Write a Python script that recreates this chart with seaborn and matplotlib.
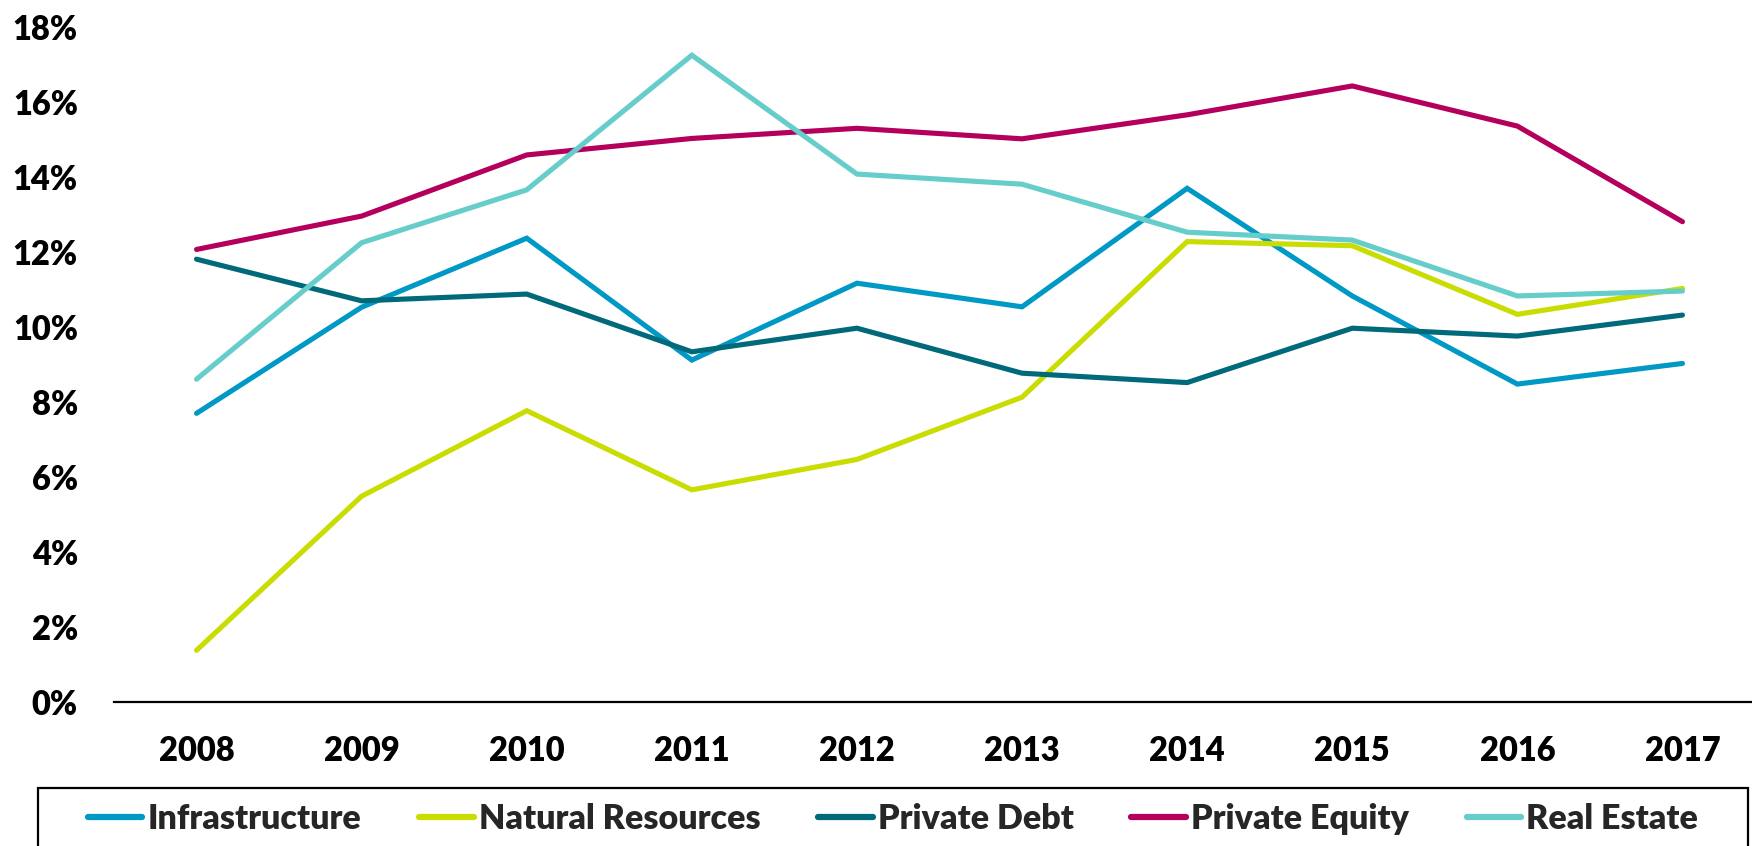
import matplotlib
matplotlib.use("Agg")
import matplotlib.pyplot as plt
from matplotlib.patches import Rectangle
from matplotlib.ticker import FuncFormatter
import seaborn as sns
import pandas as pd

years = [2008, 2009, 2010, 2011, 2012, 2013, 2014, 2015, 2016, 2017]
series_names = ["Infrastructure", "Natural Resources", "Private Debt", "Private Equity", "Real Estate"]
infrastructure = [7.69, 10.52, 12.36, 9.11, 11.16, 10.53, 13.69, 10.82, 8.47, 9.02]
natural_resources = [1.37, 5.48, 7.76, 5.65, 6.46, 8.12, 12.27, 12.16, 10.33, 11.02]
private_debt = [11.80, 10.69, 10.87, 9.33, 9.96, 8.76, 8.51, 9.96, 9.75, 10.31]
private_equity = [12.06, 12.95, 14.58, 15.02, 15.29, 15.01, 15.65, 16.42, 15.35, 12.80]
real_estate = [8.60, 12.24, 13.65, 17.24, 14.07, 13.80, 12.52, 12.31, 10.82, 10.95]
y_ticks = [0, 2, 4, 6, 8, 10, 12, 14, 16, 18]
colors = ["#0099C6", "#C9DD03", "#00697A", "#B4005C", "#66CDCA"]

values = [infrastructure, natural_resources, private_debt, private_equity, real_estate]
rows = []
for name, vals in zip(series_names, values):
    for i, (yr, v) in enumerate(zip(years, vals)):
        rows.append({"pos": i, "year": str(yr), "series": name, "value": v / 100.0})
df = pd.DataFrame(rows)

sns.set_theme(style="white")
plt.rcParams["font.family"] = ["Lato", "DejaVu Sans"]
plt.rcParams["font.weight"] = "heavy"

fig = plt.figure(figsize=(17.52, 8.46), dpi=100)
ax = fig.add_axes([114 / 1752, 1 - 701.7 / 846, (1765 - 114) / 1752, (701.7 - 26.7) / 846])

sns.lineplot(data=df, x="pos", y="value", hue="series", hue_order=series_names,
             palette=colors, linewidth=3.7, ax=ax, legend=True, sort=False)
for ln in ax.get_lines():
    ln.set_solid_capstyle("round")
    ln.set_solid_joinstyle("miter")

ax.set_xlim(-0.5, len(years) - 0.5)
ax.set_ylim(0, 0.18)
ax.set_xticks(range(len(years)))
ax.set_xticklabels([str(y) for y in years])
ax.set_yticks([t / 100 for t in y_ticks])
ax.yaxis.set_major_formatter(FuncFormatter(lambda v, p: f"{round(v * 100):d}%"))
ax.set_xlabel("")
ax.set_ylabel("")
ax.grid(False)
for s in ["top", "right", "left"]:
    ax.spines[s].set_visible(False)
ax.spines["bottom"].set_color("black")
ax.spines["bottom"].set_linewidth(1.6)
ax.tick_params(axis="x", length=0, pad=24, labelsize=23.5, labelcolor="black")
ax.tick_params(axis="y", length=0, pad=26, labelsize=23.5, labelcolor="black")
for lab in ax.get_xticklabels() + ax.get_yticklabels():
    lab.set_fontweight("heavy")

handles, labels = ax.get_legend_handles_labels()
ax.get_legend().remove()
for h in handles:
    h.set_linewidth(4.5)
    h.set_solid_capstyle("round")
leg = fig.legend(handles, labels, loc="center", bbox_to_anchor=(893 / 1752, 1 - 819 / 846),
                 ncol=5, frameon=False, handlelength=1.6, handletextpad=0.15,
                 columnspacing=1.7, borderpad=0, prop={"weight": "heavy", "size": 24.5})

box = Rectangle((38 / 1752, -0.05), (1748 - 38) / 1752, (1 - 788 / 846) + 0.05,
                transform=fig.transFigure, fill=False, edgecolor="black", linewidth=1.6)
fig.patches.append(box)

fig.savefig("out.png", dpi=100)
